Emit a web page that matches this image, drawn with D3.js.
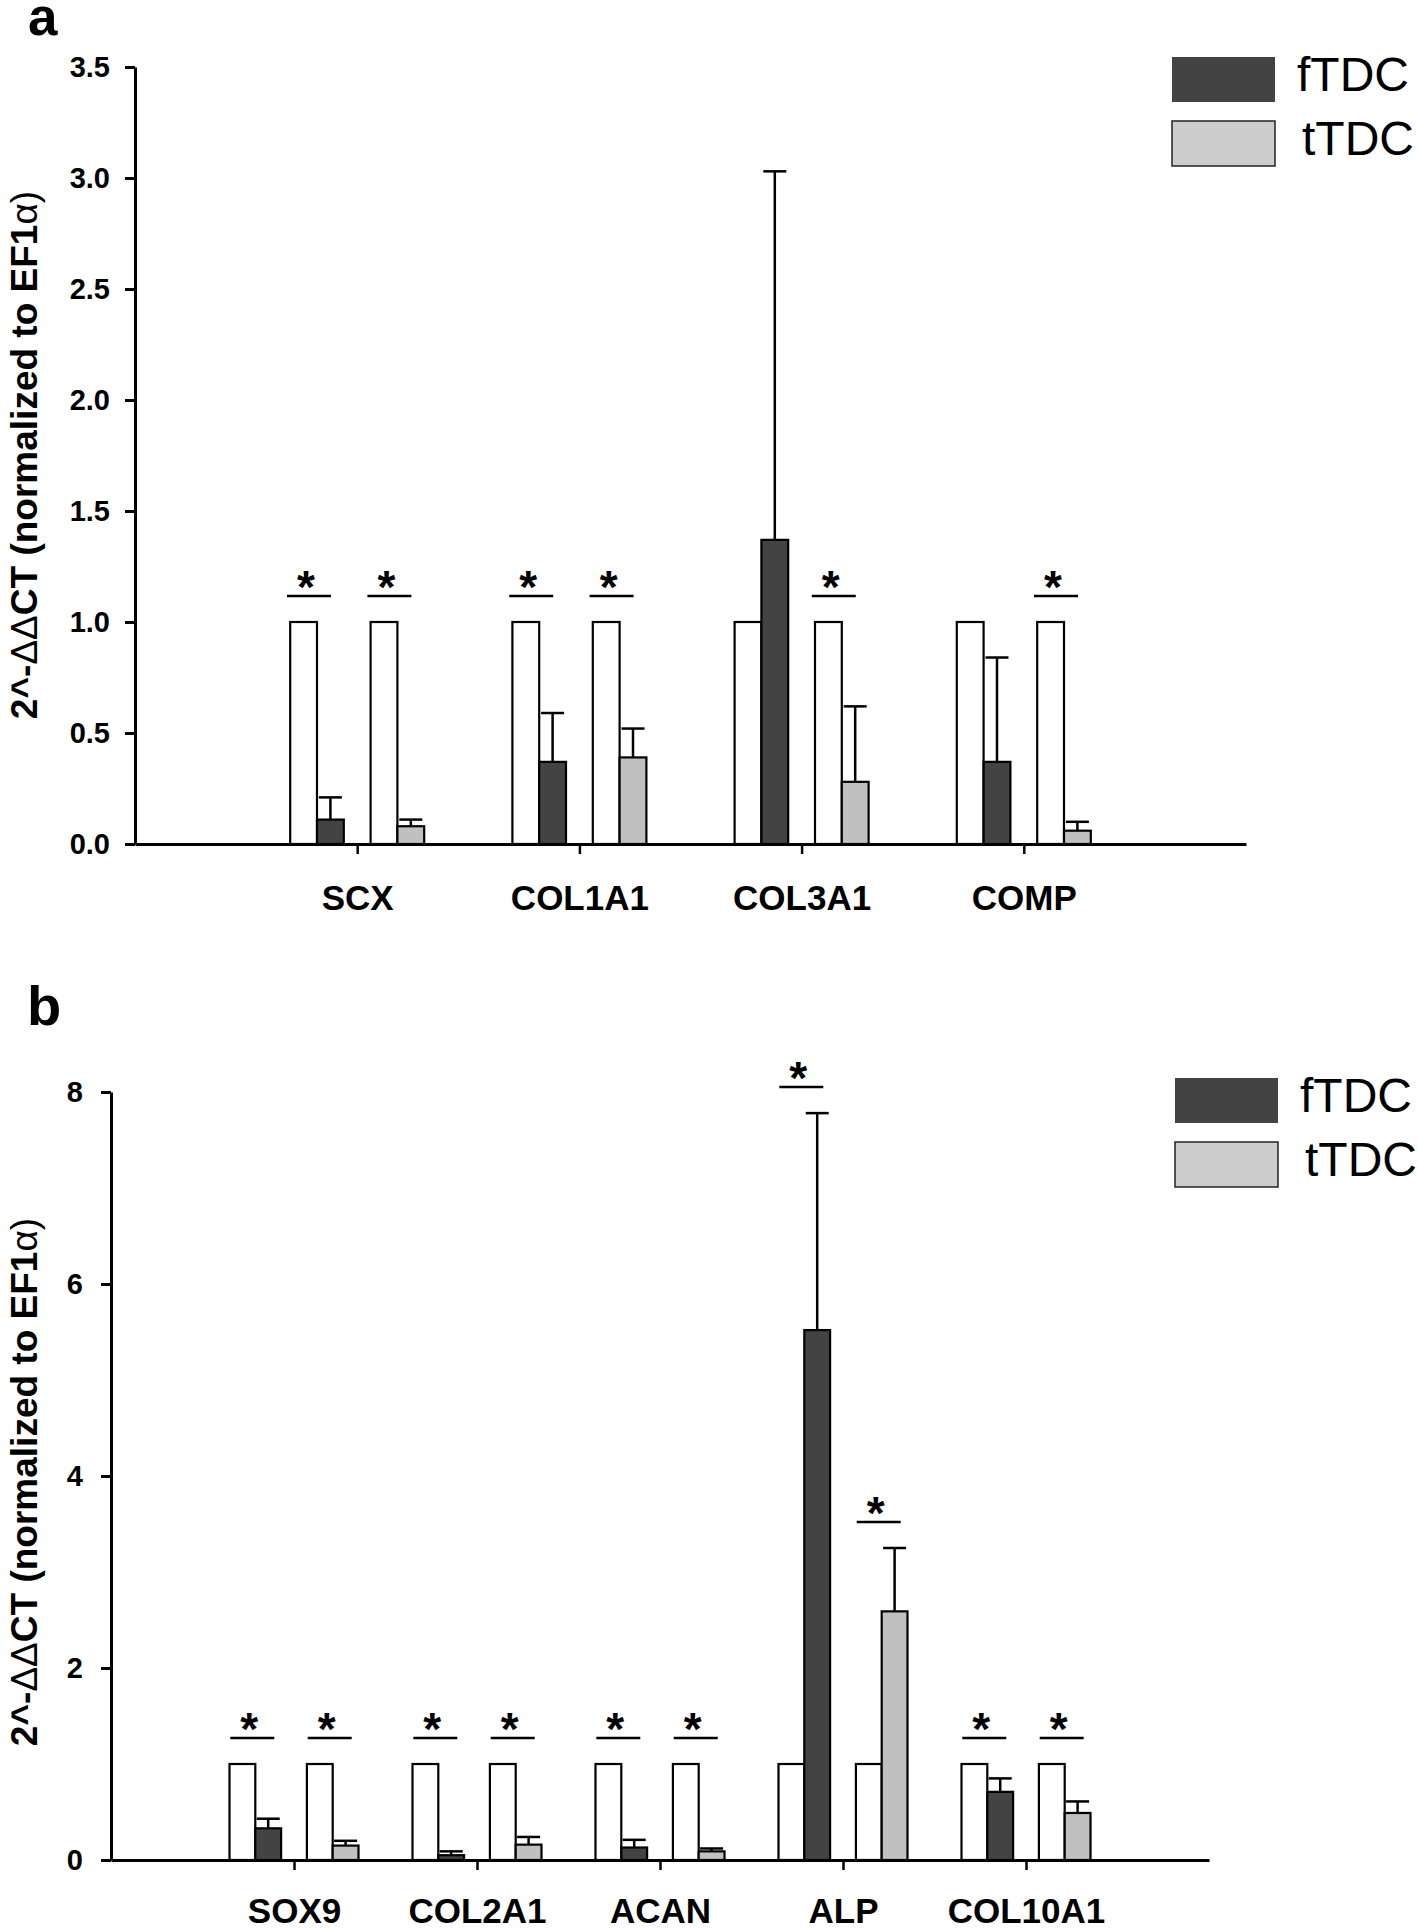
<!DOCTYPE html>
<html>
<head>
<meta charset="utf-8">
<script src="https://cdn.jsdelivr.net/npm/d3@7"></script>
<style>
  html, body { margin: 0; padding: 0; background: #fff; }
  svg { display: block; }
  text { font-family: "Liberation Sans", Arial, Helvetica, sans-serif; }
</style>
</head>
<body>
<svg id="chart" width="1418" height="1929"></svg>
<script>
// ---------- data ----------
const seriesNames = ["fTDC", "tTDC"];

const catsA = ["SCX", "COL1A1", "COL3A1", "COMP"];
const ctrlA = [1, 1, 1, 1];
const fA    = [0.11, 0.37, 1.37, 0.37];
const fErrA = [0.10, 0.22, 1.66, 0.47];
const tA    = [0.08, 0.39, 0.28, 0.06];
const tErrA = [0.03, 0.13, 0.34, 0.04];
const sigFA = [true, true, false, false];
const sigTA = [true, true, true, true];
const ticksA = [0, 0.5, 1.0, 1.5, 2.0, 2.5, 3.0, 3.5];

const catsB = ["SOX9", "COL2A1", "ACAN", "ALP", "COL10A1"];
const ctrlB = [1, 1, 1, 1, 1];
const fB    = [0.33, 0.05, 0.13, 5.52, 0.71];
const fErrB = [0.10, 0.04, 0.08, 2.26, 0.14];
const tB    = [0.15, 0.16, 0.09, 2.59, 0.49];
const tErrB = [0.05, 0.08, 0.03, 0.66, 0.12];
const sigFB = [true, true, true, true, true];
const sigTB = [true, true, true, true, true];
const ticksB = [0, 2, 4, 6, 8];

const yTitle = ["2^-", "ΔΔ", "CT (normalized to EF1", "α", ")"];

// ---------- styles ----------
const COL_F = "#434343", COL_T = "#c0c0c0", COL_W = "#ffffff";
const LEG_T = "#cdcdcd";

const svg = d3.select("#chart");

function panel(cfg) {
  const g = svg.append("g");
  const y = d3.scaleLinear().domain([0, cfg.ymax]).range([cfg.y0, cfg.y1]);
  const x = d3.scalePoint().domain(cfg.cats).range([cfg.x0, cfg.x1]).padding(1);
  const s = cfg.slot;

  // panel letter
  g.append("text").attr("x", cfg.letterX).attr("y", cfg.letterY)
    .attr("font-size", cfg.letterSize).attr("font-weight", "bold").text(cfg.letter);

  // y axis
  const ya = g.append("g").attr("transform", `translate(${cfg.x0},0)`)
    .call(d3.axisLeft(y).tickValues(cfg.ticks).tickFormat(cfg.fmt)
      .tickSize(10).tickSizeOuter(0).tickPadding(cfg.yPad));
  ya.select(".domain").attr("stroke-width", 3);
  ya.selectAll(".tick line").attr("stroke-width", 3);
  ya.selectAll(".tick text").attr("font-size", 29).attr("font-weight", "bold")
    .attr("fill", "#000").attr("font-family", "Liberation Sans, Arial, sans-serif");

  // y title
  const tt = g.append("text")
    .attr("transform", `translate(${cfg.titleX},${cfg.titleY}) rotate(-90)`)
    .attr("text-anchor", "middle").attr("font-size", 37).attr("font-weight", "bold");
  yTitle.forEach((p, i) => {
    tt.append("tspan").text(p)
      .attr("font-weight", (i === 1 || i === 3 || i === 4) ? "normal" : "bold");
  });

  // bars
  const rows = cfg.cats.map((c, i) => ({
    c, i, cx: x(c), ctrl: cfg.ctrl[i], f: cfg.f[i], fe: cfg.fe[i], t: cfg.t[i], te: cfg.te[i],
    sf: cfg.sf[i], st: cfg.st[i]
  }));
  const bars = [];
  rows.forEach(r => {
    bars.push({ x: r.cx - 2.5 * s, v: r.ctrl, fill: COL_W });
    bars.push({ x: r.cx - 1.5 * s, v: r.f, e: r.fe, fill: COL_F });
    bars.push({ x: r.cx + 0.5 * s, v: r.ctrl, fill: COL_W });
    bars.push({ x: r.cx + 1.5 * s, v: r.t, e: r.te, fill: COL_T });
  });

  // error bars (upper only)
  const eb = bars.filter(b => b.e !== undefined);
  g.selectAll(".ev").data(eb).join("line")
    .attr("x1", b => b.x + s / 2).attr("x2", b => b.x + s / 2)
    .attr("y1", b => y(b.v)).attr("y2", b => y(b.v + b.e))
    .attr("stroke", "#000").attr("stroke-width", 2.5);
  g.selectAll(".ec").data(eb).join("line")
    .attr("x1", b => b.x + s / 2 - 11.5).attr("x2", b => b.x + s / 2 + 11.5)
    .attr("y1", b => y(b.v + b.e)).attr("y2", b => y(b.v + b.e))
    .attr("stroke", "#000").attr("stroke-width", 2.5);

  g.selectAll(".bar").data(bars).join("rect")
    .attr("x", b => b.x).attr("width", s)
    .attr("y", b => y(b.v)).attr("height", b => y(0) - y(b.v))
    .attr("fill", b => b.fill).attr("stroke", "#000").attr("stroke-width", 2.2);

  // significance marks
  const sig = [];
  rows.forEach(r => {
    if (r.sf) sig.push({ cx: r.cx - 1.5 * s, top: Math.max(r.ctrl, r.f + r.fe) });
    if (r.st) sig.push({ cx: r.cx + 1.5 * s, top: Math.max(r.ctrl, r.t + r.te) });
  });
  sig.forEach(d => {
    const ly = y(d.top) - 26;
    const lc = d.cx + cfg.sigOff;
    g.append("line").attr("x1", lc - 22).attr("x2", lc + 22)
      .attr("y1", ly).attr("y2", ly).attr("stroke", "#000").attr("stroke-width", 2.5);
    g.append("text").attr("x", lc - 3).attr("y", ly + 7)
      .attr("text-anchor", "middle").attr("font-size", 46).attr("font-weight", "bold").text("*");
  });

  // x axis (baseline)
  const xa = g.append("g").attr("transform", `translate(0,${cfg.y0})`)
    .call(d3.axisBottom(x).tickSize(10).tickSizeOuter(0).tickPadding(cfg.xPad));
  xa.select(".domain").attr("stroke-width", 3);
  xa.selectAll(".tick line").attr("stroke-width", 2.5);
  xa.selectAll(".tick text").attr("font-size", 35).attr("font-weight", "bold")
    .attr("fill", "#000").attr("font-family", "Liberation Sans, Arial, sans-serif");

  // legend
  const lg = g.append("g");
  seriesNames.forEach((n, i) => {
    const ry = cfg.legY + i * 64;
    lg.append("rect").attr("x", cfg.legX).attr("y", ry).attr("width", 103).attr("height", 45)
      .attr("fill", i === 0 ? COL_F : LEG_T)
      .attr("stroke", i === 0 ? COL_F : "#222").attr("stroke-width", i === 0 ? 0 : 1.5);
    lg.append("text").attr("x", cfg.legX + 125 + (i === 0 ? 0 : 5)).attr("y", ry + 34)
      .attr("font-size", 48).text(n);
  });
}

panel({
  letter: "a", letterX: 28, letterY: 35, letterSize: 53,
  cats: catsA, ctrl: ctrlA, f: fA, fe: fErrA, t: tA, te: tErrA, sf: sigFA, st: sigTA,
  ymax: 3.5, ticks: ticksA, fmt: d3.format(".1f"),
  x0: 135, x1: 1246, y0: 844, y1: 67, slot: 26.8,
  yPad: 15, xPad: 31, titleX: 37, titleY: 455, sigOff: -8,
  legX: 1172, legY: 57
});

panel({
  letter: "b", letterX: 27, letterY: 1025, letterSize: 56,
  cats: catsB, ctrl: ctrlB, f: fB, fe: fErrB, t: tB, te: tErrB, sf: sigFB, st: sigTB,
  ymax: 8, ticks: ticksB, fmt: d3.format("d"),
  x0: 111, x1: 1209, y0: 1860, y1: 1092, slot: 25.8,
  yPad: 18, xPad: 28, titleX: 37, titleY: 1482, sigOff: -3,
  legX: 1175, legY: 1078
});
</script>
</body>
</html>
